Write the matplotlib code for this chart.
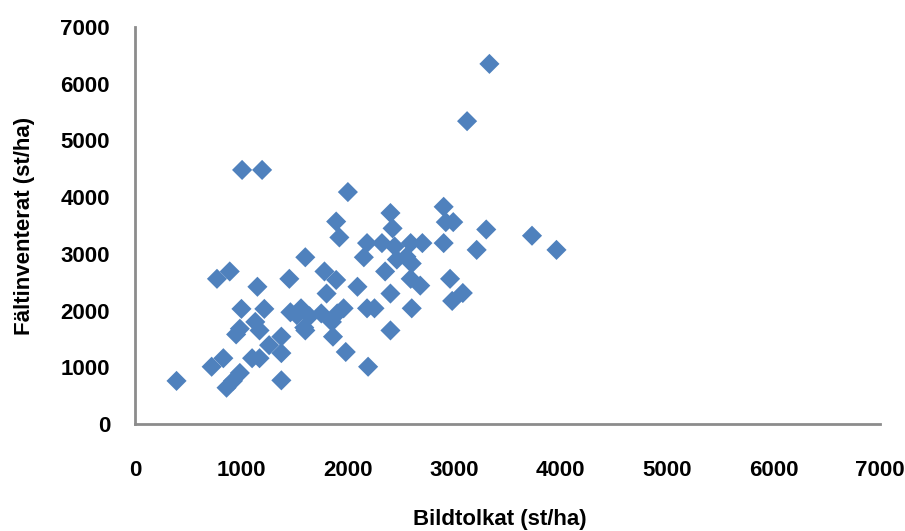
import matplotlib
matplotlib.use("Agg")
import matplotlib.pyplot as plt

# Bildtolkat (x) and Fältinventerat (y), stems per hectare
bildtolkat = [
    390, 720, 830, 860, 920, 985, 950, 985, 1000, 770,
    890, 1150, 1130, 1170, 1215, 1100, 1170, 1260, 1375, 1375,
    1375, 1450, 1460, 1560, 1590, 1600, 1640, 1750, 1780, 1800,
    1850, 1860, 1890, 1900, 1960, 1980, 2090, 2180, 2250, 2190,
    2150, 2180, 2320, 2350, 2400, 2400, 2400, 2420, 2440, 2460,
    2550, 2590, 2600, 2590, 2600, 2680, 2700, 2900, 2900, 2920,
    2990, 2960, 2980, 3080, 3210, 3300, 3730, 3960, 3120, 3330,
    1890, 1920, 2000, 1006, 1194, 1600, 1520,
]
faltinventerat = [
    760, 1010, 1160, 640, 760, 900, 1580, 1680, 2030, 2560,
    2690, 2420, 1800, 1650, 2030, 1160, 1160, 1390, 1540, 1250,
    770, 2560, 1970, 2040, 1700, 2940, 1900, 1950, 2690, 2300,
    1800, 1540, 2540, 1950, 2040, 1270, 2420, 2040, 2040, 1010,
    2940, 3190, 3190, 2690, 2300, 1650, 3720, 3450, 3130, 2900,
    2950, 3190, 2830, 2560, 2040, 2440, 3190, 3190, 3830, 3560,
    3560, 2560, 2170, 2310, 3070, 3430, 3320, 3070, 5340, 6350,
    3570, 3290, 4090, 4480, 4480, 1650, 1920,
]
ticks = [0, 1000, 2000, 3000, 4000, 5000, 6000, 7000]
xlabel = "Bildtolkat (st/ha)"
ylabel = "Fältinventerat (st/ha)"

plt.rcParams['font.family'] = ['Liberation Sans', 'DejaVu Sans']

fig = plt.figure(figsize=(9.05, 5.31), dpi=100)
ax = fig.add_axes([0.1492, 0.2015, 0.8232, 0.7476])

ax.scatter(bildtolkat, faltinventerat, marker='D', s=105, color='#4F81BD',
           edgecolors='none', zorder=3)

ax.set_xlim(0, 7000)
ax.set_ylim(0, 7000)
ax.set_xticks(ticks)
ax.set_yticks(ticks)
ax.set_xticklabels([str(t) for t in ticks], fontsize=16, fontweight='bold')
ax.set_yticklabels([str(t) for t in ticks], fontsize=16, fontweight='bold')
ax.tick_params(axis='x', length=0, pad=26)
ax.tick_params(axis='y', length=0, pad=18)

for s in ['top', 'right']:
    ax.spines[s].set_visible(False)
for s in ['left', 'bottom']:
    ax.spines[s].set_color('#8c8c8c')
    ax.spines[s].set_linewidth(2)

ax.set_xlabel(xlabel, fontsize=16, fontweight='bold')
ax.xaxis.set_label_coords(0.49, -0.215)
ax.set_ylabel(ylabel, fontsize=16, fontweight='bold', labelpad=18)

fig.savefig("out.png", dpi=100)
